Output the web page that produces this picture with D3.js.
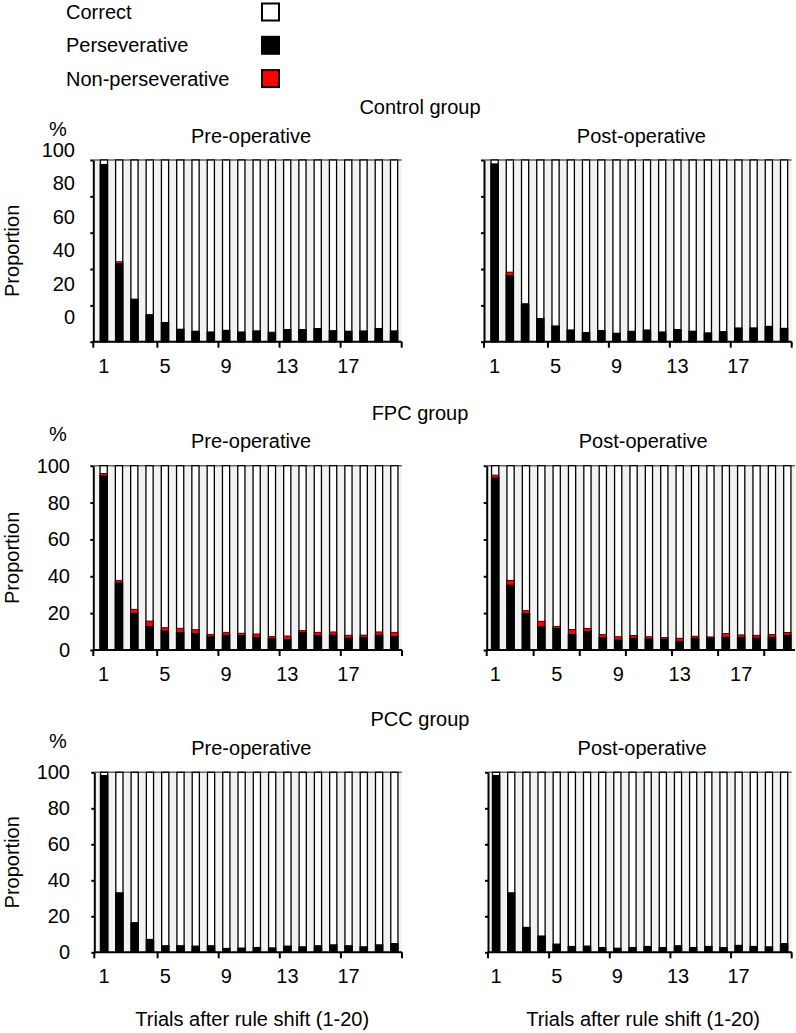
<!DOCTYPE html>
<html>
<head>
<meta charset="utf-8">
<script src="https://cdn.jsdelivr.net/npm/d3@7"></script>
<style>
  body { margin: 0; background: #fff; }
  text { font-family: "Liberation Sans", Arial, sans-serif; fill: #000; }
</style>
</head>
<body>
<script>
// ---------------- DATA ----------------
const trials = d3.range(1, 21);
const xTickLabels = [1, 5, 9, 13, 17];
const yTickValues = [0, 20, 40, 60, 80, 100];
const legendLabels = ["Correct", "Perseverative", "Non-perseverative"];
const groupTitles = ["Control group", "FPC group", "PCC group"];
const phaseTitles = ["Pre-operative", "Post-operative"];

const ctrlPrePersev  = [97.5, 43, 23, 14.5, 10.5, 6.8, 5.7, 5.3, 6.2, 5.3, 5.9, 5.1, 6.6, 6.6, 7, 6, 5.7, 5.7, 7.2, 5.9];
const ctrlPreNon     = [0, 1, 0.5, 0.5, 0, 0, 0, 0, 0, 0, 0, 0, 0, 0, 0.3, 0, 0, 0.2, 0, 0];
const ctrlPostPersev = [97.8, 36.5, 20.5, 12.7, 8.6, 6.4, 5, 6.1, 4.6, 5.5, 6.4, 5.3, 6.6, 5.7, 4.8, 5.5, 7.5, 7.3, 8.4, 7.3];
const ctrlPostNon    = [0, 1.8, 0.4, 0, 0, 0, 0, 0, 0, 0.3, 0, 0, 0, 0, 0, 0, 0, 0.3, 0, 0];
const fpcPrePersev   = [94.5, 36.4, 19.9, 12.7, 10.3, 9.4, 8.9, 7.2, 8, 7.8, 6.9, 6.1, 5.6, 9.4, 7.8, 8.1, 6.5, 6.7, 8.1, 7.4];
const fpcPreNon      = [1.3, 1.4, 2.2, 3, 1.8, 2.4, 2.1, 1.3, 1.6, 1.3, 1.8, 1.3, 2, 1.1, 1.8, 1.7, 1.5, 1.4, 1.7, 2.2];
const fpcPostPersev  = [93.4, 35.2, 19.8, 12.6, 11.7, 8.4, 9.9, 6.6, 5.4, 6.4, 6, 5.9, 4.7, 6.4, 6.4, 6.9, 6.9, 6.5, 6.9, 8];
const fpcPostNon     = [1.5, 2.6, 1.6, 3, 1, 2.7, 1.8, 1.8, 1.8, 1.5, 1.2, 0.8, 1.7, 1.1, 0.7, 2, 1.3, 1.5, 1.5, 1.5];
const pccPrePersev   = [98, 33, 16.4, 7.1, 3.6, 3.6, 3.4, 3.6, 2.1, 2.3, 2.6, 2.4, 3.4, 3, 3.6, 4.1, 3.6, 3, 4.1, 4.8];
const pccPreNon      = [0.3, 0, 0, 0, 0, 0, 0, 0, 0, 0, 0, 0, 0, 0, 0, 0, 0, 0, 0, 0];
const pccPostPersev  = [98, 33, 13.8, 9, 4.5, 3.2, 3.4, 2.6, 2.2, 2.6, 3.2, 2.6, 3.6, 2.6, 3.2, 2.6, 3.8, 3.2, 3, 4.8];
const pccPostNon     = [0.3, 0, 0, 0, 0, 0, 0, 0, 0, 0, 0, 0, 0, 0, 0, 0, 0, 0, 0, 0];

// ---------------- LAYOUT ----------------
const W = 796, H = 1033;
const colors = { correct: "#ffffff", persev: "#000000", non: "#ff0000", bg: "#f2f2f2" };

const rows = [
  { title: groupTitles[0], top: 160,   bottom: 341.7, shiftedLabels: true,
    panels: [
      { persev: ctrlPrePersev,  non: ctrlPreNon,  x0: 93.3, b0: 96.3, b1: 401.7, every: 4, endTick: true },
      { persev: ctrlPostPersev, non: ctrlPostNon, x0: 484,  b0: 487,  b1: 791.7, every: 4, endTick: true } ] },
  { title: groupTitles[1], top: 465.7, bottom: 650, shiftedLabels: false,
    panels: [
      { persev: fpcPrePersev,  non: fpcPreNon,  x0: 93.3,  b0: 96,   b1: 402, every: 4, endTick: true },
      { persev: fpcPostPersev, non: fpcPostNon, x0: 486.7, b0: 487.5, b1: 795, every: 3, endTick: false } ] },
  { title: groupTitles[2], top: 772.3, bottom: 952.3, shiftedLabels: false,
    panels: [
      { persev: pccPrePersev,  non: pccPreNon,  x0: 94.3, b0: 96.5, b1: 402,   every: 4, endTick: true },
      { persev: pccPostPersev, non: pccPostNon, x0: 488,  b0: 488.5, b1: 791.7, every: 4, endTick: true } ] }
];

const svg = d3.select("body").append("svg").attr("width", W).attr("height", H);

// Legend
const legendColors = [colors.correct, colors.persev, colors.non];
const lg = svg.append("g");
legendLabels.forEach((lab, i) => {
  const cy = 12 + i * 33.3;
  lg.append("text").attr("x", 66).attr("y", cy).attr("dy", "0.35em")
    .attr("font-size", 20).text(lab);
  lg.append("rect").attr("x", 262).attr("y", cy - 8.5).attr("width", 17).attr("height", 17)
    .attr("fill", legendColors[i]).attr("stroke", "#000").attr("stroke-width", 2);
});

rows.forEach((row, ri) => {
  const g = svg.append("g");
  const y = d3.scaleLinear().domain([0, 100]).range([row.bottom, row.top]);

  g.append("text").attr("x", 420).attr("y", row.top - 46).attr("text-anchor", "middle")
    .attr("font-size", 20).text(row.title);
  g.append("text").attr("x", 58).attr("y", row.top - 24.5).attr("text-anchor", "middle")
    .attr("font-size", 20).text("%");
  g.append("text")
    .attr("transform", `translate(19,${(row.top + row.bottom) / 2}) rotate(-90)`)
    .attr("text-anchor", "middle").attr("font-size", 20).text("Proportion");

  row.panels.forEach((p, pi) => {
    const pg = g.append("g");
    const xb = d3.scaleBand().domain(trials).range([p.b0, p.b1]).paddingInner(0).paddingOuter(0);
    const bw = xb.bandwidth();
    const barW = bw * 0.47;
    const bx = d => xb(d) + (bw - barW) / 2;

    // phase title
    pg.append("text").attr("x", (p.b0 + p.b1) / 2 + 2).attr("y", row.top - 17.5)
      .attr("text-anchor", "middle").attr("font-size", 20).text(phaseTitles[pi]);

    // plot background
    pg.append("rect").attr("x", p.x0).attr("y", y(100)).attr("width", p.b1 - p.x0)
      .attr("height", y(0) - y(100)).attr("fill", colors.bg);
    pg.append("line").attr("x1", p.x0).attr("x2", p.b1).attr("y1", y(100)).attr("y2", y(100))
      .attr("stroke", "#666").attr("stroke-width", 1.5);

    const data = trials.map((t, i) => ({ t, persev: p.persev[i], non: p.non[i] }));

    // full (correct) bars
    pg.selectAll(".full").data(data).join("rect")
      .attr("x", d => bx(d.t)).attr("width", barW)
      .attr("y", y(100)).attr("height", y(0) - y(100))
      .attr("fill", colors.correct).attr("stroke", "#000").attr("stroke-width", 1.3);
    // perseverative
    pg.selectAll(".pers").data(data).join("rect")
      .attr("x", d => bx(d.t)).attr("width", barW)
      .attr("y", d => y(d.persev)).attr("height", d => y(0) - y(d.persev))
      .attr("fill", colors.persev).attr("stroke", "#000").attr("stroke-width", 1.3);
    // non-perseverative
    pg.selectAll(".non").data(data.filter(d => d.non > 0)).join("rect")
      .attr("x", d => bx(d.t)).attr("width", barW)
      .attr("y", d => y(d.persev + d.non)).attr("height", d => y(d.persev) - y(d.persev + d.non))
      .attr("fill", colors.non).attr("stroke", "#000").attr("stroke-width", 0.8);

    // y axis
    const yAxis = d3.axisLeft(y).tickValues(yTickValues).tickSize(3).tickSizeOuter(0).tickFormat("");
    const ya = pg.append("g").attr("transform", `translate(${p.x0},0)`).call(yAxis);
    ya.selectAll("path,line").attr("stroke", "#000").attr("stroke-width", 2);

    if (pi === 0) {
      // y tick labels (control row labels are drawn shifted, as in the original)
      const ly = row.shiftedLabels
        ? y.copy().range([row.bottom - 24.7, row.top - 10])
        : y;
      const rightEdge = row.shiftedLabels ? 75 : 70;
      pg.selectAll(".ylab").data(yTickValues).join("text")
        .attr("x", rightEdge).attr("y", d => ly(d)).attr("dy", "0.35em")
        .attr("text-anchor", "end").attr("font-size", 20).text(d => d);
    }

    // x axis
    pg.append("line").attr("x1", p.x0).attr("x2", p.b1).attr("y1", y(0)).attr("y2", y(0))
      .attr("stroke", "#000").attr("stroke-width", 2);
    const tickPos = [p.x0].concat(trials.filter(t => t > 1 && (t - 1) % p.every === 0).map(t => xb(t)));
    if (p.endTick) tickPos.push(p.b1);
    pg.selectAll(".xtick").data(tickPos).join("line")
      .attr("x1", d => d).attr("x2", d => d).attr("y1", y(0)).attr("y2", y(0) + 6)
      .attr("stroke", "#000").attr("stroke-width", 2);
    pg.selectAll(".xlab").data(xTickLabels).join("text")
      .attr("x", d => xb(d) + bw / 2).attr("y", y(0) + 31)
      .attr("text-anchor", "middle").attr("font-size", 20).text(d => d);

    if (ri === rows.length - 1) {
      pg.append("text").attr("x", (p.b0 + p.b1) / 2 + 3).attr("y", 1026)
        .attr("text-anchor", "middle").attr("font-size", 20).text("Trials after rule shift (1-20)");
    }
  });
});
</script>
</body>
</html>
